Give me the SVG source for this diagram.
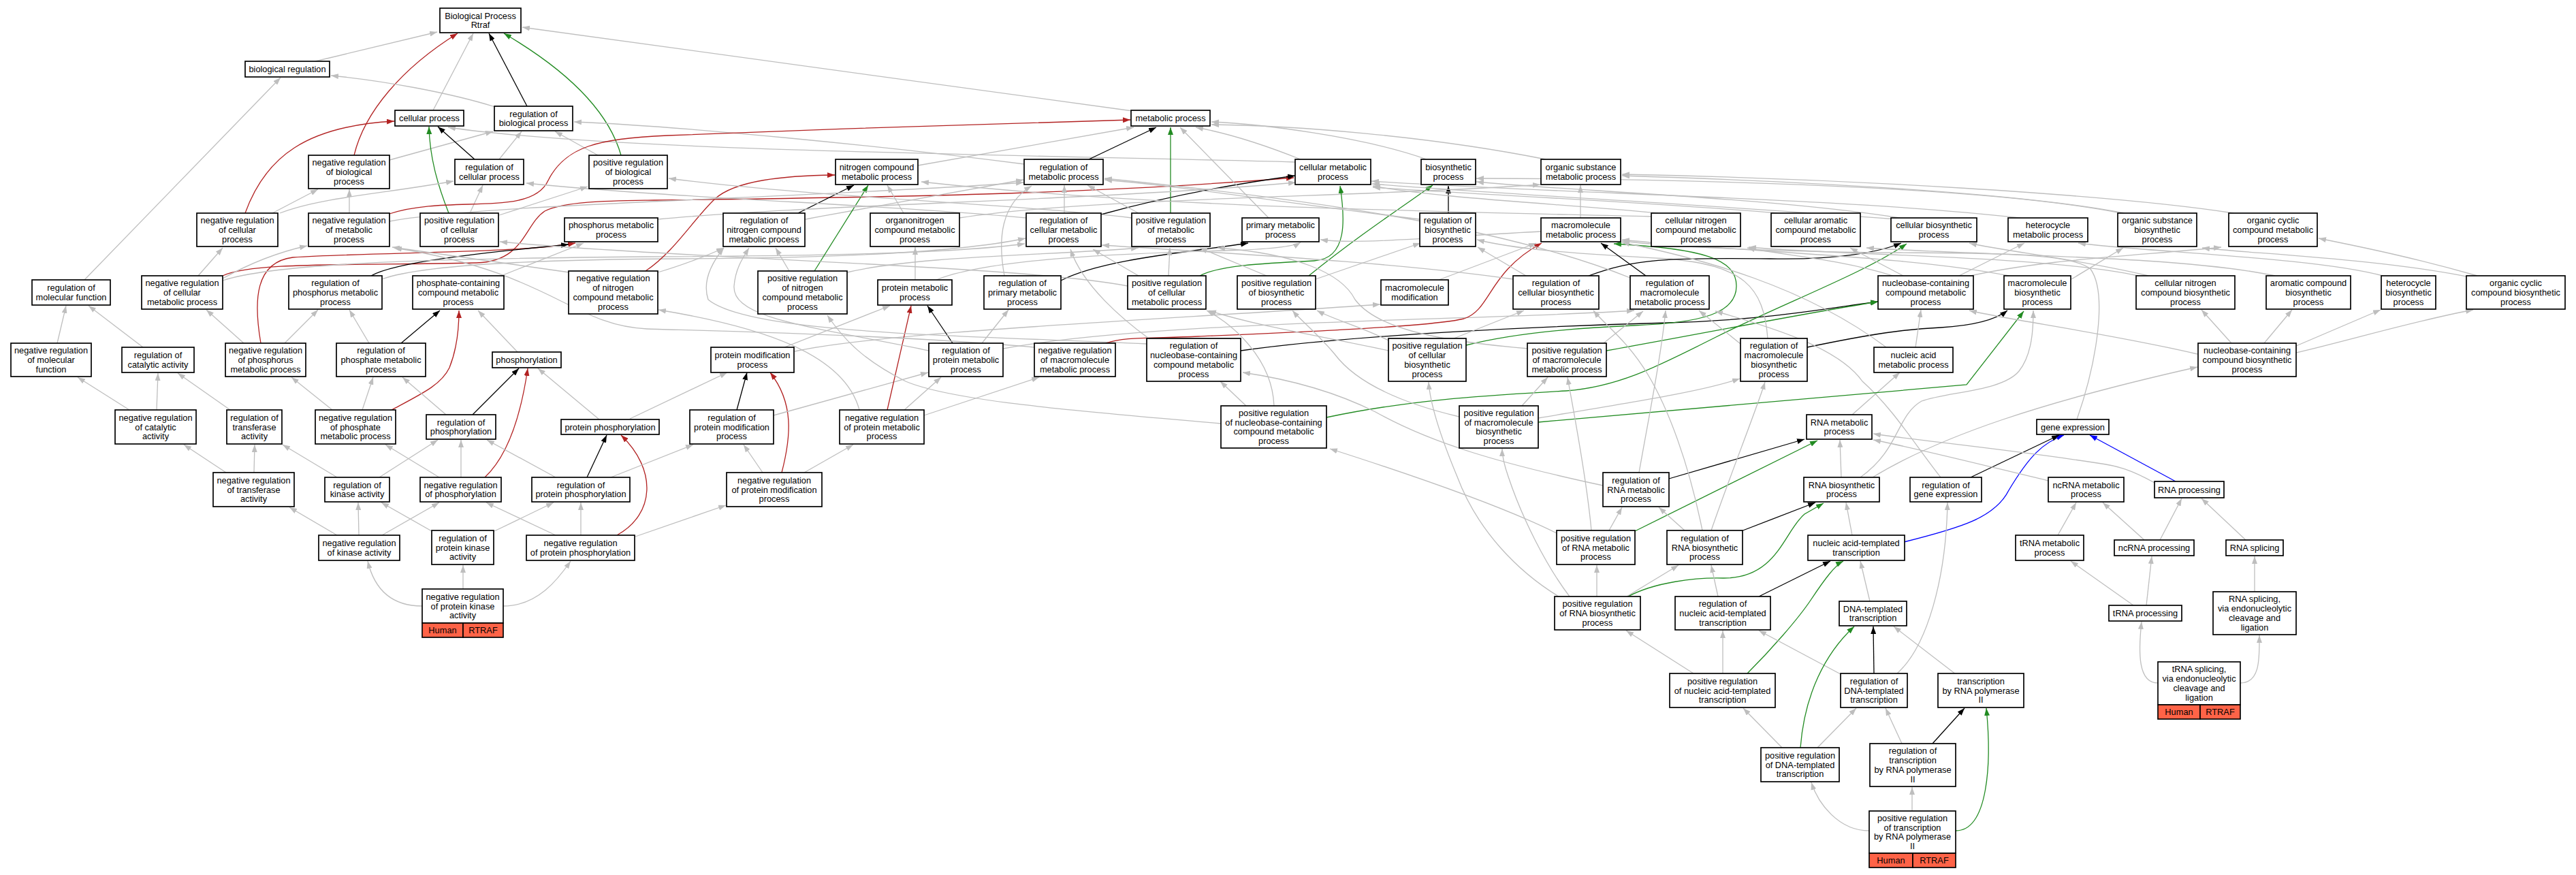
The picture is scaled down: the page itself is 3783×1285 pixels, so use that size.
<svg xmlns="http://www.w3.org/2000/svg" width="3783" height="1285" viewBox="0 0 3783 1285">
<defs>
<marker id="mg" viewBox="0 0 11 8" refX="11" refY="4" markerWidth="11" markerHeight="8" markerUnits="userSpaceOnUse" orient="auto"><path d="M0,0L11,4L0,8z" fill="#bebebe"/></marker>
<marker id="mk" viewBox="0 0 11 8" refX="11" refY="4" markerWidth="11" markerHeight="8" markerUnits="userSpaceOnUse" orient="auto"><path d="M0,0L11,4L0,8z" fill="#000"/></marker>
<marker id="mr" viewBox="0 0 11 8" refX="11" refY="4" markerWidth="11" markerHeight="8" markerUnits="userSpaceOnUse" orient="auto"><path d="M0,0L11,4L0,8z" fill="#b22222"/></marker>
<marker id="mgr" viewBox="0 0 11 8" refX="11" refY="4" markerWidth="11" markerHeight="8" markerUnits="userSpaceOnUse" orient="auto"><path d="M0,0L11,4L0,8z" fill="#228b22"/></marker>
<marker id="mb" viewBox="0 0 11 8" refX="11" refY="4" markerWidth="11" markerHeight="8" markerUnits="userSpaceOnUse" orient="auto"><path d="M0,0L11,4L0,8z" fill="#0000ff"/></marker>
</defs>
<style>
.n rect{fill:#fff;stroke:#000;stroke-width:1.7}
.n rect.h{fill:#ff6347}
text{font-family:"Liberation Sans",Arial,sans-serif;font-size:12.8px;text-anchor:middle;fill:#000}
#edges path{fill:none;stroke-width:1.3}
#edges .g{stroke:#bebebe;marker-end:url(#mg)}
#edges .k{stroke:#000;marker-end:url(#mk)}
#edges .r{stroke:#b22222;marker-end:url(#mr)}
#edges .gr{stroke:#228b22;marker-end:url(#mgr)}
#edges .b{stroke:#0000ff;marker-end:url(#mb)}
</style>
<rect width="3783" height="1285" fill="#fff"/>
<g id="edges">
<path class="g" d="M463,90 L642,47"/>
<path class="r" d="M520,228 C535,165 590,100 672,49"/>
<path class="g" d="M636,162 L695,49"/>
<path class="k" d="M774,156 L718,49"/>
<path class="gr" d="M912,228 C890,150 810,90 740,49"/>
<path class="g" d="M1663,163 L767,40"/>
<path class="g" d="M727,157 C660,136 560,118 486,111"/>
<path class="g" d="M124,411 L412,114"/>
<path class="g" d="M572,235 L724,193"/>
<path class="g" d="M733,234 L766,193"/>
<path class="g" d="M878,228 L815,193"/>
<path class="g" d="M1504,241 C1300,215 1000,185 843,179"/>
<path class="k" d="M697,234 L643,186"/>
<path class="gr" d="M659,313 C642,270 631,230 630,186"/>
<path class="r" d="M360,313 C390,230 450,185 579,178"/>
<path class="g" d="M1902,238 C1450,226 900,222 658,187"/>
<path class="g" d="M400,313 L467,278"/>
<path class="g" d="M411,313 C470,290 560,285 666,266"/>
<path class="g" d="M513,313 L513,278"/>
<path class="g" d="M690,313 L709,272"/>
<path class="g" d="M733,316 L863,274"/>
<path class="r" d="M572,314 C660,285 780,320 805,265 C830,215 880,203 980,199 C1200,190 1500,180 1660,176"/>
<path class="r" d="M327,405 C370,385 500,390 700,386 C770,384 770,330 800,310 C830,295 900,295 960,294 C1300,290 1600,285 1900,261"/>
<path class="r" d="M383,504 C372,440 375,385 430,378 C560,370 760,372 845,357"/>
<path class="k" d="M545,405 C580,385 700,372 835,359"/>
<path class="g" d="M736,405 L857,357"/>
<path class="g" d="M291,405 L327,364"/>
<path class="g" d="M327,409 C370,385 410,370 451,361"/>
<path class="g" d="M327,412 C400,388 600,380 950,377 C1200,376 1400,372 1505,358"/>
<path class="g" d="M561,410 C620,388 800,381 1000,380 C1250,379 1420,368 1506,350"/>
<path class="g" d="M84,504 L97,449"/>
<path class="g" d="M210,510 L130,449"/>
<path class="g" d="M358,504 L303,455"/>
<path class="g" d="M418,504 L467,455"/>
<path class="g" d="M542,504 L513,455"/>
<path class="k" d="M589,504 L646,456"/>
<path class="r" d="M575,602 C620,578 648,565 660,540 C672,510 674,480 674,456"/>
<path class="g" d="M760,517 L702,456"/>
<path class="g" d="M190,602 L114,554"/>
<path class="g" d="M230,602 L232,548"/>
<path class="g" d="M338,602 L261,548"/>
<path class="g" d="M488,602 L428,554"/>
<path class="g" d="M532,602 L548,554"/>
<path class="g" d="M655,609 L591,554"/>
<path class="k" d="M694,609 L762,541"/>
<path class="r" d="M712,701 C745,670 765,610 775,541"/>
<path class="g" d="M880,616 L790,541"/>
<path class="g" d="M925,615 L1068,547"/>
<path class="g" d="M332,694 L270,653"/>
<path class="g" d="M373,694 L374,653"/>
<path class="g" d="M495,701 L415,653"/>
<path class="g" d="M557,701 L643,646"/>
<path class="g" d="M645,701 L566,653"/>
<path class="g" d="M677,701 L677,646"/>
<path class="g" d="M816,701 L715,646"/>
<path class="k" d="M862,701 L891,639"/>
<path class="r" d="M906,786 C962,755 965,690 912,639"/>
<path class="g" d="M897,701 L1018,653"/>
<path class="g" d="M933,788 L1066,742"/>
<path class="g" d="M495,786 L425,745"/>
<path class="g" d="M527,786 L526,738"/>
<path class="g" d="M561,786 L645,738"/>
<path class="g" d="M634,780 L560,738"/>
<path class="g" d="M726,780 L813,738"/>
<path class="g" d="M816,786 L714,738"/>
<path class="g" d="M853,786 L853,738"/>
<path class="g" d="M620,890 C560,890 545,845 540,824"/>
<path class="g" d="M680,865 L680,830"/>
<path class="g" d="M739,890 C790,890 820,850 838,824"/>
<path class="g" d="M1152,510 L1307,449"/>
<path class="g" d="M1167,516 C1300,487 1700,470 2027,447"/>
<path class="k" d="M1082,602 L1097,547"/>
<path class="r" d="M1148,694 C1162,640 1166,592 1131,547"/>
<path class="g" d="M1120,694 L1092,653"/>
<path class="g" d="M1181,694 L1253,653"/>
<path class="g" d="M1136,610 L1363,547"/>
<path class="g" d="M1328,602 L1382,554"/>
<path class="r" d="M1303,602 L1338,449"/>
<path class="g" d="M1357,610 L1526,554"/>
<path class="g" d="M1262,602 C1240,520 1120,480 967,455"/>
<path class="g" d="M1183,322 C1300,300 1420,280 1503,264"/>
<path class="g" d="M966,400 C1000,390 1040,375 1063,364"/>
<path class="g" d="M836,400 L576,363"/>
<path class="r" d="M948,398 C990,370 1020,320 1050,292 C1080,265 1150,258 1226,257"/>
<path class="k" d="M1172,313 L1254,272"/>
<path class="gr" d="M1196,398 L1275,272"/>
<path class="g" d="M1159,398 L1139,364"/>
<path class="g" d="M1244,400 C1350,375 1550,375 1672,364"/>
<path class="g" d="M1327,313 L1303,272"/>
<path class="g" d="M1409,320 C1600,290 2000,290 2262,271"/>
<path class="g" d="M1348,243 L1665,187"/>
<path class="k" d="M1599,234 L1698,187"/>
<path class="g" d="M1563,313 L1563,272"/>
<path class="g" d="M1507,320 C1300,300 1000,292 773,269"/>
<path class="k" d="M1617,315 C1700,292 1800,272 1902,258"/>
<path class="g" d="M1672,313 L1597,272"/>
<path class="gr" d="M1719,313 L1719,187"/>
<path class="g" d="M1662,320 C1500,300 1200,290 982,262"/>
<path class="g" d="M1863,320 L1733,187"/>
<path class="g" d="M1475,405 C1465,350 1470,300 1515,273"/>
<path class="k" d="M1558,412 C1620,380 1750,370 1833,357"/>
<path class="g" d="M1442,504 L1481,455"/>
<path class="k" d="M1399,504 L1362,449"/>
<path class="g" d="M1473,512 C1700,470 2200,470 2400,456"/>
<path class="g" d="M1364,515 C1200,480 1075,470 1078,420 C1080,395 1090,380 1100,364"/>
<path class="g" d="M1684,505 C1400,492 1100,490 1040,440 C1030,410 1050,380 1063,364"/>
<path class="g" d="M1519,510 C1300,490 1000,485 950,483 C840,478 810,400 579,364"/>
<path class="r" d="M1624,504 C1650,495 1680,497 1760,494 C1900,488 2100,480 2150,468 C2190,455 2185,400 2264,357"/>
<path class="k" d="M1822,515 C2000,490 2300,478 2450,474 C2600,470 2700,450 2758,443"/>
<path class="g" d="M1687,497 C1650,470 1590,420 1572,366"/>
<path class="g" d="M1716,405 L1718,364"/>
<path class="g" d="M1672,405 L1605,366"/>
<path class="gr" d="M1762,405 C1790,390 1850,387 1930,383 C1980,380 1975,320 1968,273"/>
<path class="g" d="M1656,420 C1500,390 1000,380 734,355"/>
<path class="gr" d="M1922,405 C1990,350 2050,310 2104,272"/>
<path class="g" d="M1932,410 L2086,357"/>
<path class="g" d="M1860,405 L1762,364"/>
<path class="g" d="M2039,500 C2000,480 1960,470 1934,456"/>
<path class="g" d="M2039,515 C1950,495 1850,480 1775,456"/>
<path class="g" d="M2135,497 L2238,456"/>
<path class="gr" d="M2153,507 C2220,490 2300,482 2400,478 C2500,474 2550,460 2550,420 C2550,380 2500,365 2370,358"/>
<path class="gr" d="M2359,515 C2500,490 2650,460 2758,443"/>
<path class="gr" d="M1948,613 C2080,585 2200,580 2300,574 C2380,568 2440,535 2520,495 C2620,445 2740,400 2800,358"/>
<path class="g" d="M2355,504 L2413,457"/>
<path class="g" d="M2245,512 C2100,500 2020,480 1990,440 C1970,400 1900,372 1788,364"/>
<path class="k" d="M2654,510 C2750,490 2800,483 2850,481 C2900,478 2930,470 2948,456"/>
<path class="g" d="M2556,505 L2495,456"/>
<path class="g" d="M2596,497 C2590,420 2560,390 2450,380 C2300,372 2220,365 2169,352"/>
<path class="g" d="M2241,405 L2170,363"/>
<path class="g" d="M2222,410 C2050,385 1800,372 1618,360"/>
<path class="k" d="M2333,405 C2400,380 2450,378 2600,380 C2700,382 2760,370 2792,357"/>
<path class="k" d="M2417,405 L2351,357"/>
<path class="g" d="M2394,408 C2200,330 1900,290 1622,262"/>
<path class="g" d="M2780,405 C2700,380 2620,375 2566,364"/>
<path class="g" d="M2795,405 L2717,364"/>
<path class="g" d="M2877,405 L2973,357"/>
<path class="g" d="M2885,407 C3000,380 3150,375 3262,363"/>
<path class="g" d="M2950,405 C2800,375 2550,370 2382,352"/>
<path class="g" d="M3042,410 L3118,364"/>
<path class="g" d="M3155,405 C3050,380 2950,370 2892,357"/>
<path class="g" d="M3140,405 C3000,375 2700,375 2568,363"/>
<path class="g" d="M3341,405 C3200,375 2900,375 2741,364"/>
<path class="g" d="M3499,405 C3400,378 3150,370 3052,357"/>
<path class="g" d="M3638,405 C3550,380 3480,365 3405,350"/>
<path class="g" d="M3632,408 C3500,380 3300,372 3234,364"/>
<path class="k" d="M2127,313 L2127,273"/>
<path class="g" d="M2321,320 L2321,272"/>
<path class="g" d="M2425,318 C2100,310 1700,305 1353,267"/>
<path class="g" d="M2435,313 C2300,300 2100,290 2016,273"/>
<path class="g" d="M2610,313 C2400,295 2150,285 2016,275"/>
<path class="g" d="M2790,320 C2600,290 2300,280 2168,267"/>
<path class="g" d="M2785,322 C2500,300 2200,285 2015,270"/>
<path class="g" d="M2967,320 C2700,290 2300,285 2014,266"/>
<path class="g" d="M3115,313 C2900,270 2400,262 2168,262"/>
<path class="g" d="M3120,313 C2950,280 2600,265 2382,258"/>
<path class="g" d="M3280,313 C3100,285 2700,262 2382,256"/>
<path class="g" d="M2095,234 C2000,200 1850,182 1779,179"/>
<path class="g" d="M2270,234 C2100,200 1900,184 1779,183"/>
<path class="g" d="M1910,234 C1850,210 1800,195 1756,187"/>
<path class="g" d="M2263,340 C2150,345 2000,360 1939,352"/>
<path class="g" d="M1375,411 C1450,380 1650,372 1800,368 C1870,366 1900,362 1910,356"/>
<path class="g" d="M2113,411 L2256,357"/>
<path class="g" d="M2813,510 L2821,455"/>
<path class="g" d="M2770,510 C2650,420 2500,380 2382,356"/>
<path class="g" d="M2720,609 L2790,547"/>
<path class="g" d="M2704,701 L2702,646"/>
<path class="g" d="M2732,701 C2790,660 2785,610 2822,589 C2860,575 2940,575 2965,545 C2985,520 2986,480 2986,456"/>
<path class="g" d="M2750,701 C2850,640 3000,590 3227,539"/>
<path class="g" d="M2720,786 L2711,738"/>
<path class="g" d="M2746,883 L2732,824"/>
<path class="b" d="M2796,796 C2880,775 2930,760 2950,720 C2980,670 3000,650 3031,639"/>
<path class="b" d="M3195,707 L3069,639"/>
<path class="k" d="M2894,701 L3024,639"/>
<path class="g" d="M3008,706 C2900,680 2800,655 2751,646"/>
<path class="g" d="M3164,709 C3130,690 3110,684 3080,680 C2950,660 2800,645 2751,637"/>
<path class="g" d="M3022,786 L3049,738"/>
<path class="g" d="M3149,793 L3088,738"/>
<path class="g" d="M3172,793 L3204,732"/>
<path class="g" d="M3298,793 L3233,732"/>
<path class="g" d="M3133,889 L3041,824"/>
<path class="g" d="M3152,889 L3160,817"/>
<path class="g" d="M3311,869 L3311,817"/>
<path class="g" d="M3169,1003 C3140,1003 3140,960 3145,913"/>
<path class="g" d="M3290,1003 C3320,1003 3318,965 3318,933"/>
<path class="g" d="M2850,701 C2810,650 2780,600 2735,560 C2700,510 2600,480 2519,457"/>
<path class="g" d="M3050,616 C3080,530 3095,430 3070,395 C3040,370 2900,372 2790,371 C2600,370 2450,362 2382,354"/>
<path class="g" d="M1830,596 L1792,560"/>
<path class="g" d="M1871,596 C1868,520 1800,470 1772,456"/>
<path class="g" d="M1793,622 C1600,605 1400,590 1330,560 C1270,530 1240,500 1215,463"/>
<path class="g" d="M2235,596 L2273,554"/>
<path class="g" d="M2259,614 C2400,590 2500,575 2555,556"/>
<path class="g" d="M2143,612 C2050,590 1990,560 1960,520 C1935,490 1910,470 1898,456"/>
<path class="gr" d="M2259,620 L2888,565 L2972,457"/>
<path class="g" d="M2337,779 C2330,700 2310,600 2302,554"/>
<path class="g" d="M2363,779 L2382,745"/>
<path class="g" d="M2286,783 C2200,740 2050,690 1953,659"/>
<path class="gr" d="M2401,780 L2669,647"/>
<path class="k" d="M2451,703 L2650,645"/>
<path class="g" d="M2354,713 C2200,680 2100,650 2020,605 C1950,570 1880,555 1825,547"/>
<path class="g" d="M2407,694 C2420,620 2440,520 2446,456"/>
<path class="g" d="M2474,779 L2436,745"/>
<path class="g" d="M2513,779 C2540,700 2580,600 2592,561"/>
<path class="g" d="M2500,779 C2480,680 2450,600 2420,550 C2390,500 2355,475 2340,456"/>
<path class="k" d="M2557,780 L2666,738"/>
<path class="g" d="M2345,876 L2345,830"/>
<path class="g" d="M2389,876 L2465,830"/>
<path class="g" d="M2289,876 C2230,840 2170,780 2140,700 C2115,640 2100,590 2098,561"/>
<path class="g" d="M2305,876 C2270,830 2235,760 2215,700 C2208,680 2206,670 2206,659"/>
<path class="gr" d="M2391,876 C2430,855 2490,848 2530,849 C2610,850 2620,780 2650,755 L2678,739"/>
<path class="g" d="M2523,876 L2513,830"/>
<path class="k" d="M2583,876 L2688,824"/>
<path class="g" d="M2530,989 L2530,926"/>
<path class="g" d="M2487,989 L2388,926"/>
<path class="gr" d="M2566,989 C2600,955 2640,910 2660,880 C2680,850 2695,830 2707,824"/>
<path class="g" d="M2703,990 L2583,926"/>
<path class="k" d="M2752,989 L2751,920"/>
<path class="g" d="M2786,989 C2830,950 2858,850 2860,738"/>
<path class="g" d="M2872,990 L2781,920"/>
<path class="g" d="M2617,1098 L2560,1040"/>
<path class="g" d="M2669,1098 L2726,1040"/>
<path class="gr" d="M2644,1098 C2650,1020 2680,960 2723,920"/>
<path class="g" d="M2793,1092 L2769,1040"/>
<path class="k" d="M2838,1092 L2885,1040"/>
<path class="g" d="M2808,1191 L2808,1156"/>
<path class="g" d="M2745,1220 C2700,1220 2670,1180 2660,1149"/>
<path class="gr" d="M2872,1220 C2920,1220 2925,1120 2917,1040"/>
<path class="g" d="M3227,520 C3100,490 2950,470 2892,456"/>
<path class="g" d="M3277,504 L3233,455"/>
<path class="g" d="M3325,504 L3366,455"/>
<path class="g" d="M3372,508 L3496,455"/>
<path class="g" d="M3372,518 C3450,500 3550,470 3632,455"/>
<path class="g" d="M2085,322 C1900,300 1750,275 1622,264"/>
<path class="g" d="M966,322 C1200,300 1600,295 1903,268"/>
<path class="g" d="M572,325 C700,300 1200,290 1503,268"/>
<path class="g" d="M1344,411 L1344,363"/>
</g>
<g id="n1" class="n"><rect x="646" y="12" width="119" height="36"/><text x="705.5" y="27.65">Biological Process<tspan x="705.5" dy="13.7">Rtraf</tspan></text></g>
<g id="n2" class="n"><rect x="360" y="90" width="124" height="23"/><text x="422" y="106">biological regulation</text></g>
<g id="n3" class="n"><rect x="580" y="162" width="101" height="23"/><text x="630.5" y="178">cellular process</text></g>
<g id="n4" class="n"><rect x="726" y="156" width="115" height="36"/><text x="783.5" y="171.65">regulation of<tspan x="783.5" dy="13.7">biological process</tspan></text></g>
<g id="n5" class="n"><rect x="1661" y="162" width="116" height="23"/><text x="1719" y="178">metabolic process</text></g>
<g id="n6" class="n"><rect x="453" y="228" width="119" height="49"/><text x="512.5" y="243.3">negative regulation<tspan x="512.5" dy="13.7">of biological</tspan><tspan x="512.5" dy="13.7">process</tspan></text></g>
<g id="n7" class="n"><rect x="668" y="234" width="101" height="37"/><text x="718.5" y="250.15">regulation of<tspan x="718.5" dy="13.7">cellular process</tspan></text></g>
<g id="n8" class="n"><rect x="865" y="228" width="115" height="49"/><text x="922.5" y="243.3">positive regulation<tspan x="922.5" dy="13.7">of biological</tspan><tspan x="922.5" dy="13.7">process</tspan></text></g>
<g id="n9" class="n"><rect x="1227" y="234" width="121" height="37"/><text x="1287.5" y="250.15">nitrogen compound<tspan x="1287.5" dy="13.7">metabolic process</tspan></text></g>
<g id="n10" class="n"><rect x="1504" y="234" width="116" height="37"/><text x="1562" y="250.15">regulation of<tspan x="1562" dy="13.7">metabolic process</tspan></text></g>
<g id="n11" class="n"><rect x="1902" y="234" width="111" height="37"/><text x="1957.5" y="250.15">cellular metabolic<tspan x="1957.5" dy="13.7">process</tspan></text></g>
<g id="n12" class="n"><rect x="2087" y="234" width="80" height="37"/><text x="2127" y="250.15">biosynthetic<tspan x="2127" dy="13.7">process</tspan></text></g>
<g id="n13" class="n"><rect x="2263" y="234" width="117" height="37"/><text x="2321.5" y="250.15">organic substance<tspan x="2321.5" dy="13.7">metabolic process</tspan></text></g>
<g id="n14" class="n"><rect x="289" y="313" width="119" height="49"/><text x="348.5" y="328.3">negative regulation<tspan x="348.5" dy="13.7">of cellular</tspan><tspan x="348.5" dy="13.7">process</tspan></text></g>
<g id="n15" class="n"><rect x="453" y="313" width="119" height="49"/><text x="512.5" y="328.3">negative regulation<tspan x="512.5" dy="13.7">of metabolic</tspan><tspan x="512.5" dy="13.7">process</tspan></text></g>
<g id="n16" class="n"><rect x="617" y="313" width="115" height="49"/><text x="674.5" y="328.3">positive regulation<tspan x="674.5" dy="13.7">of cellular</tspan><tspan x="674.5" dy="13.7">process</tspan></text></g>
<g id="n17" class="n"><rect x="829" y="320" width="137" height="35"/><text x="897.5" y="335.15">phosphorus metabolic<tspan x="897.5" dy="13.7">process</tspan></text></g>
<g id="n18" class="n"><rect x="1062" y="313" width="120" height="49"/><text x="1122" y="328.3">regulation of<tspan x="1122" dy="13.7">nitrogen compound</tspan><tspan x="1122" dy="13.7">metabolic process</tspan></text></g>
<g id="n19" class="n"><rect x="1278" y="313" width="131" height="49"/><text x="1343.5" y="328.3">organonitrogen<tspan x="1343.5" dy="13.7">compound metabolic</tspan><tspan x="1343.5" dy="13.7">process</tspan></text></g>
<g id="n20" class="n"><rect x="1507" y="313" width="110" height="49"/><text x="1562" y="328.3">regulation of<tspan x="1562" dy="13.7">cellular metabolic</tspan><tspan x="1562" dy="13.7">process</tspan></text></g>
<g id="n21" class="n"><rect x="1662" y="313" width="115" height="49"/><text x="1719.5" y="328.3">positive regulation<tspan x="1719.5" dy="13.7">of metabolic</tspan><tspan x="1719.5" dy="13.7">process</tspan></text></g>
<g id="n22" class="n"><rect x="1824" y="320" width="113" height="35"/><text x="1880.5" y="335.15">primary metabolic<tspan x="1880.5" dy="13.7">process</tspan></text></g>
<g id="n23" class="n"><rect x="2085" y="313" width="82" height="49"/><text x="2126" y="328.3">regulation of<tspan x="2126" dy="13.7">biosynthetic</tspan><tspan x="2126" dy="13.7">process</tspan></text></g>
<g id="n24" class="n"><rect x="2263" y="320" width="117" height="35"/><text x="2321.5" y="335.15">macromolecule<tspan x="2321.5" dy="13.7">metabolic process</tspan></text></g>
<g id="n25" class="n"><rect x="2425" y="313" width="131" height="49"/><text x="2490.5" y="328.3">cellular nitrogen<tspan x="2490.5" dy="13.7">compound metabolic</tspan><tspan x="2490.5" dy="13.7">process</tspan></text></g>
<g id="n26" class="n"><rect x="2601" y="313" width="131" height="49"/><text x="2666.5" y="328.3">cellular aromatic<tspan x="2666.5" dy="13.7">compound metabolic</tspan><tspan x="2666.5" dy="13.7">process</tspan></text></g>
<g id="n27" class="n"><rect x="2777" y="320" width="126" height="35"/><text x="2840" y="335.15">cellular biosynthetic<tspan x="2840" dy="13.7">process</tspan></text></g>
<g id="n28" class="n"><rect x="2949" y="320" width="117" height="35"/><text x="3007.5" y="335.15">heterocycle<tspan x="3007.5" dy="13.7">metabolic process</tspan></text></g>
<g id="n29" class="n"><rect x="3110" y="313" width="116" height="49"/><text x="3168" y="328.3">organic substance<tspan x="3168" dy="13.7">biosynthetic</tspan><tspan x="3168" dy="13.7">process</tspan></text></g>
<g id="n30" class="n"><rect x="3273" y="313" width="130" height="49"/><text x="3338" y="328.3">organic cyclic<tspan x="3338" dy="13.7">compound metabolic</tspan><tspan x="3338" dy="13.7">process</tspan></text></g>
<g id="n31" class="n"><rect x="47" y="411" width="115" height="37"/><text x="104.5" y="427.15">regulation of<tspan x="104.5" dy="13.7">molecular function</tspan></text></g>
<g id="n32" class="n"><rect x="208" y="405" width="119" height="49"/><text x="267.5" y="420.3">negative regulation<tspan x="267.5" dy="13.7">of cellular</tspan><tspan x="267.5" dy="13.7">metabolic process</tspan></text></g>
<g id="n33" class="n"><rect x="424" y="405" width="137" height="49"/><text x="492.5" y="420.3">regulation of<tspan x="492.5" dy="13.7">phosphorus metabolic</tspan><tspan x="492.5" dy="13.7">process</tspan></text></g>
<g id="n34" class="n"><rect x="606" y="405" width="134" height="49"/><text x="673" y="420.3">phosphate-containing<tspan x="673" dy="13.7">compound metabolic</tspan><tspan x="673" dy="13.7">process</tspan></text></g>
<g id="n35" class="n"><rect x="835" y="398" width="131" height="63"/><text x="900.5" y="413.45">negative regulation<tspan x="900.5" dy="13.7">of nitrogen</tspan><tspan x="900.5" dy="13.7">compound metabolic</tspan><tspan x="900.5" dy="13.7">process</tspan></text></g>
<g id="n36" class="n"><rect x="1113" y="398" width="131" height="63"/><text x="1178.5" y="413.45">positive regulation<tspan x="1178.5" dy="13.7">of nitrogen</tspan><tspan x="1178.5" dy="13.7">compound metabolic</tspan><tspan x="1178.5" dy="13.7">process</tspan></text></g>
<g id="n37" class="n"><rect x="1289" y="411" width="109" height="37"/><text x="1343.5" y="427.15">protein metabolic<tspan x="1343.5" dy="13.7">process</tspan></text></g>
<g id="n38" class="n"><rect x="1445" y="405" width="113" height="49"/><text x="1501.5" y="420.3">regulation of<tspan x="1501.5" dy="13.7">primary metabolic</tspan><tspan x="1501.5" dy="13.7">process</tspan></text></g>
<g id="n39" class="n"><rect x="1656" y="405" width="115" height="49"/><text x="1713.5" y="420.3">positive regulation<tspan x="1713.5" dy="13.7">of cellular</tspan><tspan x="1713.5" dy="13.7">metabolic process</tspan></text></g>
<g id="n40" class="n"><rect x="1817" y="405" width="115" height="49"/><text x="1874.5" y="420.3">positive regulation<tspan x="1874.5" dy="13.7">of biosynthetic</tspan><tspan x="1874.5" dy="13.7">process</tspan></text></g>
<g id="n41" class="n"><rect x="2028" y="411" width="99" height="37"/><text x="2077.5" y="427.15">macromolecule<tspan x="2077.5" dy="13.7">modification</tspan></text></g>
<g id="n42" class="n"><rect x="2222" y="405" width="126" height="49"/><text x="2285" y="420.3">regulation of<tspan x="2285" dy="13.7">cellular biosynthetic</tspan><tspan x="2285" dy="13.7">process</tspan></text></g>
<g id="n43" class="n"><rect x="2394" y="405" width="116" height="49"/><text x="2452" y="420.3">regulation of<tspan x="2452" dy="13.7">macromolecule</tspan><tspan x="2452" dy="13.7">metabolic process</tspan></text></g>
<g id="n44" class="n"><rect x="2758" y="405" width="140" height="49"/><text x="2828" y="420.3">nucleobase-containing<tspan x="2828" dy="13.7">compound metabolic</tspan><tspan x="2828" dy="13.7">process</tspan></text></g>
<g id="n45" class="n"><rect x="2943" y="405" width="98" height="49"/><text x="2992" y="420.3">macromolecule<tspan x="2992" dy="13.7">biosynthetic</tspan><tspan x="2992" dy="13.7">process</tspan></text></g>
<g id="n46" class="n"><rect x="3137" y="405" width="145" height="49"/><text x="3209.5" y="420.3">cellular nitrogen<tspan x="3209.5" dy="13.7">compound biosynthetic</tspan><tspan x="3209.5" dy="13.7">process</tspan></text></g>
<g id="n47" class="n"><rect x="3328" y="405" width="124" height="49"/><text x="3390" y="420.3">aromatic compound<tspan x="3390" dy="13.7">biosynthetic</tspan><tspan x="3390" dy="13.7">process</tspan></text></g>
<g id="n48" class="n"><rect x="3497" y="405" width="80" height="49"/><text x="3537" y="420.3">heterocycle<tspan x="3537" dy="13.7">biosynthetic</tspan><tspan x="3537" dy="13.7">process</tspan></text></g>
<g id="n49" class="n"><rect x="3622" y="405" width="145" height="49"/><text x="3694.5" y="420.3">organic cyclic<tspan x="3694.5" dy="13.7">compound biosynthetic</tspan><tspan x="3694.5" dy="13.7">process</tspan></text></g>
<g id="n50" class="n"><rect x="16" y="504" width="118" height="49"/><text x="75" y="519.3">negative regulation<tspan x="75" dy="13.7">of molecular</tspan><tspan x="75" dy="13.7">function</tspan></text></g>
<g id="n51" class="n"><rect x="179" y="510" width="106" height="37"/><text x="232" y="526.15">regulation of<tspan x="232" dy="13.7">catalytic activity</tspan></text></g>
<g id="n52" class="n"><rect x="331" y="504" width="118" height="49"/><text x="390" y="519.3">negative regulation<tspan x="390" dy="13.7">of phosphorus</tspan><tspan x="390" dy="13.7">metabolic process</tspan></text></g>
<g id="n53" class="n"><rect x="494" y="504" width="131" height="49"/><text x="559.5" y="519.3">regulation of<tspan x="559.5" dy="13.7">phosphate metabolic</tspan><tspan x="559.5" dy="13.7">process</tspan></text></g>
<g id="n54" class="n"><rect x="723" y="517" width="101" height="23"/><text x="773.5" y="533">phosphorylation</text></g>
<g id="n55" class="n"><rect x="1044" y="510" width="122" height="37"/><text x="1105" y="526.15">protein modification<tspan x="1105" dy="13.7">process</tspan></text></g>
<g id="n56" class="n"><rect x="1364" y="504" width="109" height="49"/><text x="1418.5" y="519.3">regulation of<tspan x="1418.5" dy="13.7">protein metabolic</tspan><tspan x="1418.5" dy="13.7">process</tspan></text></g>
<g id="n57" class="n"><rect x="1519" y="504" width="119" height="49"/><text x="1578.5" y="519.3">negative regulation<tspan x="1578.5" dy="13.7">of macromolecule</tspan><tspan x="1578.5" dy="13.7">metabolic process</tspan></text></g>
<g id="n58" class="n"><rect x="1684" y="497" width="138" height="63"/><text x="1753" y="512.45">regulation of<tspan x="1753" dy="13.7">nucleobase-containing</tspan><tspan x="1753" dy="13.7">compound metabolic</tspan><tspan x="1753" dy="13.7">process</tspan></text></g>
<g id="n59" class="n"><rect x="2039" y="497" width="114" height="63"/><text x="2096" y="512.45">positive regulation<tspan x="2096" dy="13.7">of cellular</tspan><tspan x="2096" dy="13.7">biosynthetic</tspan><tspan x="2096" dy="13.7">process</tspan></text></g>
<g id="n60" class="n"><rect x="2243" y="504" width="116" height="49"/><text x="2301" y="519.3">positive regulation<tspan x="2301" dy="13.7">of macromolecule</tspan><tspan x="2301" dy="13.7">metabolic process</tspan></text></g>
<g id="n61" class="n"><rect x="2556" y="497" width="98" height="63"/><text x="2605" y="512.45">regulation of<tspan x="2605" dy="13.7">macromolecule</tspan><tspan x="2605" dy="13.7">biosynthetic</tspan><tspan x="2605" dy="13.7">process</tspan></text></g>
<g id="n62" class="n"><rect x="2752" y="510" width="116" height="37"/><text x="2810" y="526.15">nucleic acid<tspan x="2810" dy="13.7">metabolic process</tspan></text></g>
<g id="n63" class="n"><rect x="3228" y="504" width="144" height="49"/><text x="3300" y="519.3">nucleobase-containing<tspan x="3300" dy="13.7">compound biosynthetic</tspan><tspan x="3300" dy="13.7">process</tspan></text></g>
<g id="n64" class="n"><rect x="169" y="602" width="119" height="50"/><text x="228.5" y="617.8">negative regulation<tspan x="228.5" dy="13.7">of catalytic</tspan><tspan x="228.5" dy="13.7">activity</tspan></text></g>
<g id="n65" class="n"><rect x="333" y="602" width="81" height="50"/><text x="373.5" y="617.8">regulation of<tspan x="373.5" dy="13.7">transferase</tspan><tspan x="373.5" dy="13.7">activity</tspan></text></g>
<g id="n66" class="n"><rect x="463" y="602" width="118" height="50"/><text x="522" y="617.8">negative regulation<tspan x="522" dy="13.7">of phosphate</tspan><tspan x="522" dy="13.7">metabolic process</tspan></text></g>
<g id="n67" class="n"><rect x="626" y="609" width="102" height="36"/><text x="677" y="624.65">regulation of<tspan x="677" dy="13.7">phosphorylation</tspan></text></g>
<g id="n68" class="n"><rect x="824" y="616" width="144" height="22"/><text x="896" y="631.5">protein phosphorylation</text></g>
<g id="n69" class="n"><rect x="1013" y="602" width="123" height="50"/><text x="1074.5" y="617.8">regulation of<tspan x="1074.5" dy="13.7">protein modification</tspan><tspan x="1074.5" dy="13.7">process</tspan></text></g>
<g id="n70" class="n"><rect x="1233" y="602" width="124" height="50"/><text x="1295" y="617.8">negative regulation<tspan x="1295" dy="13.7">of protein metabolic</tspan><tspan x="1295" dy="13.7">process</tspan></text></g>
<g id="n71" class="n"><rect x="1793" y="596" width="155" height="62"/><text x="1870.5" y="610.95">positive regulation<tspan x="1870.5" dy="13.7">of nucleobase-containing</tspan><tspan x="1870.5" dy="13.7">compound metabolic</tspan><tspan x="1870.5" dy="13.7">process</tspan></text></g>
<g id="n72" class="n"><rect x="2143" y="596" width="116" height="62"/><text x="2201" y="610.95">positive regulation<tspan x="2201" dy="13.7">of macromolecule</tspan><tspan x="2201" dy="13.7">biosynthetic</tspan><tspan x="2201" dy="13.7">process</tspan></text></g>
<g id="n73" class="n"><rect x="2653" y="609" width="96" height="36"/><text x="2701" y="624.65">RNA metabolic<tspan x="2701" dy="13.7">process</tspan></text></g>
<g id="n74" class="n"><rect x="2991" y="616" width="106" height="22"/><text x="3044" y="631.5">gene expression</text></g>
<g id="n75" class="n"><rect x="313" y="694" width="119" height="50"/><text x="372.5" y="709.8">negative regulation<tspan x="372.5" dy="13.7">of transferase</tspan><tspan x="372.5" dy="13.7">activity</tspan></text></g>
<g id="n76" class="n"><rect x="477" y="701" width="95" height="36"/><text x="524.5" y="716.65">regulation of<tspan x="524.5" dy="13.7">kinase activity</tspan></text></g>
<g id="n77" class="n"><rect x="617" y="701" width="119" height="36"/><text x="676.5" y="716.65">negative regulation<tspan x="676.5" dy="13.7">of phosphorylation</tspan></text></g>
<g id="n78" class="n"><rect x="781" y="701" width="144" height="36"/><text x="853" y="716.65">regulation of<tspan x="853" dy="13.7">protein phosphorylation</tspan></text></g>
<g id="n79" class="n"><rect x="1067" y="694" width="140" height="50"/><text x="1137" y="709.8">negative regulation<tspan x="1137" dy="13.7">of protein modification</tspan><tspan x="1137" dy="13.7">process</tspan></text></g>
<g id="n80" class="n"><rect x="2354" y="694" width="97" height="50"/><text x="2402.5" y="709.8">regulation of<tspan x="2402.5" dy="13.7">RNA metabolic</tspan><tspan x="2402.5" dy="13.7">process</tspan></text></g>
<g id="n81" class="n"><rect x="2649" y="701" width="111" height="36"/><text x="2704.5" y="716.65">RNA biosynthetic<tspan x="2704.5" dy="13.7">process</tspan></text></g>
<g id="n82" class="n"><rect x="2805" y="701" width="105" height="36"/><text x="2857.5" y="716.65">regulation of<tspan x="2857.5" dy="13.7">gene expression</tspan></text></g>
<g id="n83" class="n"><rect x="3008" y="701" width="111" height="36"/><text x="3063.5" y="716.65">ncRNA metabolic<tspan x="3063.5" dy="13.7">process</tspan></text></g>
<g id="n84" class="n"><rect x="3164" y="707" width="102" height="24"/><text x="3215" y="723.5">RNA processing</text></g>
<g id="n85" class="n"><rect x="468" y="786" width="119" height="37"/><text x="527.5" y="802.15">negative regulation<tspan x="527.5" dy="13.7">of kinase activity</tspan></text></g>
<g id="n86" class="n"><rect x="634" y="779" width="91" height="50"/><text x="679.5" y="794.8">regulation of<tspan x="679.5" dy="13.7">protein kinase</tspan><tspan x="679.5" dy="13.7">activity</tspan></text></g>
<g id="n87" class="n"><rect x="773" y="786" width="159" height="37"/><text x="852.5" y="802.15">negative regulation<tspan x="852.5" dy="13.7">of protein phosphorylation</tspan></text></g>
<g id="n88" class="n"><rect x="2286" y="779" width="115" height="50"/><text x="2343.5" y="794.8">positive regulation<tspan x="2343.5" dy="13.7">of RNA metabolic</tspan><tspan x="2343.5" dy="13.7">process</tspan></text></g>
<g id="n89" class="n"><rect x="2448" y="779" width="111" height="50"/><text x="2503.5" y="794.8">regulation of<tspan x="2503.5" dy="13.7">RNA biosynthetic</tspan><tspan x="2503.5" dy="13.7">process</tspan></text></g>
<g id="n90" class="n"><rect x="2655" y="786" width="142" height="37"/><text x="2726" y="802.15">nucleic acid-templated<tspan x="2726" dy="13.7">transcription</tspan></text></g>
<g id="n91" class="n"><rect x="2960" y="786" width="100" height="37"/><text x="3010" y="802.15">tRNA metabolic<tspan x="3010" dy="13.7">process</tspan></text></g>
<g id="n92" class="n"><rect x="3105" y="793" width="117" height="23"/><text x="3163.5" y="809">ncRNA processing</text></g>
<g id="n93" class="n"><rect x="3269" y="793" width="84" height="23"/><text x="3311" y="809">RNA splicing</text></g>
<g id="n94" class="n"><rect x="620" y="865" width="119" height="50"/><text x="679.5" y="880.8">negative regulation<tspan x="679.5" dy="13.7">of protein kinase</tspan><tspan x="679.5" dy="13.7">activity</tspan></text><rect class="h" x="620" y="915" width="60" height="21"/><rect class="h" x="680" y="915" width="59" height="21"/><text x="650" y="930">Human</text><text x="709.5" y="930">RTRAF</text></g>
<g id="n95" class="n"><rect x="2283" y="876" width="126" height="49"/><text x="2346" y="891.3">positive regulation<tspan x="2346" dy="13.7">of RNA biosynthetic</tspan><tspan x="2346" dy="13.7">process</tspan></text></g>
<g id="n96" class="n"><rect x="2460" y="876" width="140" height="49"/><text x="2530" y="891.3">regulation of<tspan x="2530" dy="13.7">nucleic acid-templated</tspan><tspan x="2530" dy="13.7">transcription</tspan></text></g>
<g id="n97" class="n"><rect x="2701" y="883" width="99" height="36"/><text x="2750.5" y="898.65">DNA-templated<tspan x="2750.5" dy="13.7">transcription</tspan></text></g>
<g id="n98" class="n"><rect x="3097" y="889" width="107" height="23"/><text x="3150.5" y="905">tRNA processing</text></g>
<g id="n99" class="n"><rect x="3250" y="869" width="122" height="63"/><text x="3311" y="884.45">RNA splicing,<tspan x="3311" dy="13.7">via endonucleolytic</tspan><tspan x="3311" dy="13.7">cleavage and</tspan><tspan x="3311" dy="13.7">ligation</tspan></text></g>
<g id="n100" class="n"><rect x="2452" y="989" width="155" height="50"/><text x="2529.5" y="1004.8">positive regulation<tspan x="2529.5" dy="13.7">of nucleic acid-templated</tspan><tspan x="2529.5" dy="13.7">transcription</tspan></text></g>
<g id="n101" class="n"><rect x="2703" y="989" width="98" height="50"/><text x="2752" y="1004.8">regulation of<tspan x="2752" dy="13.7">DNA-templated</tspan><tspan x="2752" dy="13.7">transcription</tspan></text></g>
<g id="n102" class="n"><rect x="2846" y="989" width="126" height="50"/><text x="2909" y="1004.8">transcription<tspan x="2909" dy="13.7">by RNA polymerase</tspan><tspan x="2909" dy="13.7">II</tspan></text></g>
<g id="n103" class="n"><rect x="3169" y="972" width="121" height="63"/><text x="3229.5" y="987.45">tRNA splicing,<tspan x="3229.5" dy="13.7">via endonucleolytic</tspan><tspan x="3229.5" dy="13.7">cleavage and</tspan><tspan x="3229.5" dy="13.7">ligation</tspan></text><rect class="h" x="3169" y="1035" width="62" height="21"/><rect class="h" x="3231" y="1035" width="59" height="21"/><text x="3200" y="1050">Human</text><text x="3260.5" y="1050">RTRAF</text></g>
<g id="n104" class="n"><rect x="2586" y="1098" width="115" height="50"/><text x="2643.5" y="1113.8">positive regulation<tspan x="2643.5" dy="13.7">of DNA-templated</tspan><tspan x="2643.5" dy="13.7">transcription</tspan></text></g>
<g id="n105" class="n"><rect x="2746" y="1092" width="126" height="63"/><text x="2809" y="1107.45">regulation of<tspan x="2809" dy="13.7">transcription</tspan><tspan x="2809" dy="13.7">by RNA polymerase</tspan><tspan x="2809" dy="13.7">II</tspan></text></g>
<g id="n106" class="n"><rect x="2745" y="1191" width="127" height="62"/><text x="2808.5" y="1205.95">positive regulation<tspan x="2808.5" dy="13.7">of transcription</tspan><tspan x="2808.5" dy="13.7">by RNA polymerase</tspan><tspan x="2808.5" dy="13.7">II</tspan></text><rect class="h" x="2745" y="1253" width="64" height="21"/><rect class="h" x="2809" y="1253" width="63" height="21"/><text x="2777" y="1268">Human</text><text x="2840.5" y="1268">RTRAF</text></g>
</svg>
